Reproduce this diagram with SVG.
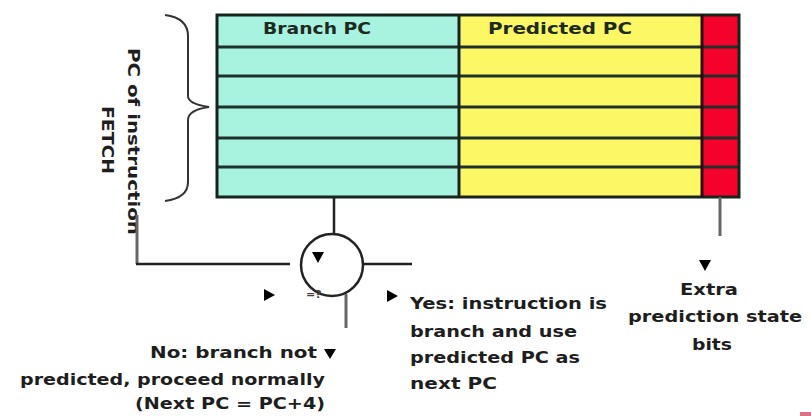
<svg xmlns="http://www.w3.org/2000/svg" width="811" height="416" viewBox="0 0 811 416">
  <style>
    .lbl { font-family: "DejaVu Sans", "Liberation Sans", sans-serif; font-weight: bold; font-size: 15px; fill: #1e1e1e; }
    .hdr { font-family: "DejaVu Sans", "Liberation Sans", sans-serif; font-weight: bold; font-size: 15px; fill: #1e2a1e; }
    .row { stroke: #20302a; stroke-width: 3; }
    .wire { stroke: #222; stroke-width: 2.5; fill: none; }
    .grey { stroke: #666; stroke-width: 3; fill: none; }
    .tip { fill: #000; }
  </style>
  <rect width="811" height="416" fill="#ffffff"/>

  <!-- Branch target buffer table -->
  <g id="btb">
    <rect x="217" y="15" width="242" height="182" fill="#a8f2e0"/>
    <rect x="459" y="15" width="243" height="182" fill="#fcf865"/>
    <rect x="702" y="15" width="37" height="182" fill="#f5022c"/>
    <g class="row">
      <line x1="217" y1="47" x2="739" y2="47"/>
      <line x1="217" y1="76" x2="739" y2="76"/>
      <line x1="217" y1="107" x2="739" y2="107"/>
      <line x1="217" y1="138" x2="739" y2="138"/>
      <line x1="217" y1="167" x2="739" y2="167"/>
    </g>
    <rect x="217" y="15" width="522" height="182" fill="none" stroke="#17241c" stroke-width="3"/>
    <line x1="459" y1="15" x2="459" y2="197" stroke="#17241c" stroke-width="3"/>
    <line x1="702" y1="15" x2="702" y2="197" stroke="#2a0a0a" stroke-width="3"/>
    <text class="hdr" x="263" y="34" textLength="108" lengthAdjust="spacingAndGlyphs">Branch PC</text>
    <text class="hdr" x="488" y="34" textLength="144" lengthAdjust="spacingAndGlyphs">Predicted PC</text>
  </g>

  <!-- Fetch PC brace and label -->
  <g id="fetch-pc">
    <path d="M165,15 Q188,18 188,36 L188,96 Q188,104 209,107 Q188,110 188,120 L188,182 Q188,198 165,201" fill="none" stroke="#333" stroke-width="2"/>
    <g transform="translate(140,140) rotate(90)">
      <text class="lbl" x="-92" y="12" textLength="187" lengthAdjust="spacingAndGlyphs">PC of instruction</text>
      <text class="lbl" x="-34" y="38" textLength="68" lengthAdjust="spacingAndGlyphs">FETCH</text>
    </g>
  </g>

  <!-- Comparator -->
  <g id="compare">
    <circle cx="332" cy="265" r="31" fill="#fff" stroke="#222" stroke-width="2.5"/>
    <text x="306" y="298" font-family="DejaVu Sans, sans-serif" font-size="11" font-weight="bold" fill="#4a4038">=?</text>
  </g>

  <!-- Connectors -->
  <g id="connectors">
    <line class="wire" x1="334" y1="197" x2="334" y2="233"/>
    <polyline class="grey" points="137,215 137,264"/>
    <line class="wire" x1="136" y1="264" x2="290" y2="264"/>
    <line class="wire" x1="363" y1="264" x2="412" y2="264"/>
    <line class="grey" x1="346" y1="294" x2="346" y2="328"/>
    <line class="grey" x1="720" y1="197" x2="720" y2="236"/>
    <polygon class="tip" points="312,252 324,252 318,263"/>
    <polygon class="tip" points="264,289 264,301 275,295"/>
    <polygon class="tip" points="387,290 387,302 398,296"/>
    <polygon class="tip" points="324,349 336,349 330,359"/>
    <polygon class="tip" points="699,260 711,260 705,271"/>
  </g>

  <!-- Outcome labels -->
  <g id="yes-label">
    <text class="lbl" x="410" y="309" textLength="197" lengthAdjust="spacingAndGlyphs">Yes: instruction is</text>
    <text class="lbl" x="410" y="337" textLength="167" lengthAdjust="spacingAndGlyphs">branch and use</text>
    <text class="lbl" x="410" y="363" textLength="170" lengthAdjust="spacingAndGlyphs">predicted PC as</text>
    <text class="lbl" x="410" y="389" textLength="87" lengthAdjust="spacingAndGlyphs">next PC</text>
  </g>

  <g id="no-label">
    <text class="lbl" x="150" y="358" textLength="167" lengthAdjust="spacingAndGlyphs">No: branch not</text>
    <text class="lbl" x="20" y="385" textLength="305" lengthAdjust="spacingAndGlyphs">predicted, proceed normally</text>
    <text class="lbl" x="135" y="409" textLength="190" lengthAdjust="spacingAndGlyphs">(Next PC = PC+4)</text>
  </g>

  <g id="state-label">
    <text class="lbl" x="680" y="295" textLength="58" lengthAdjust="spacingAndGlyphs">Extra</text>
    <text class="lbl" x="628" y="322" textLength="174" lengthAdjust="spacingAndGlyphs">prediction state</text>
    <text class="lbl" x="692" y="350" textLength="40" lengthAdjust="spacingAndGlyphs">bits</text>
  </g>

  <rect x="800" y="412" width="11" height="4" fill="#e07088"/>
</svg>
